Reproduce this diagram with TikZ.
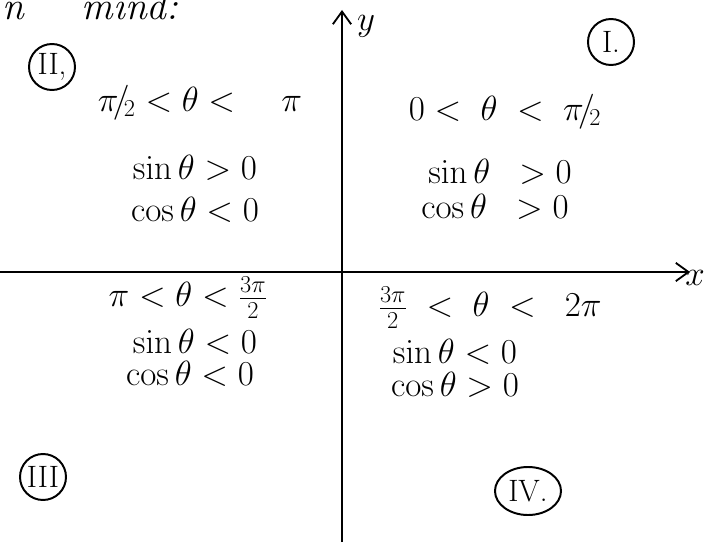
\documentclass[tikz,border=0pt]{standalone}
\usepackage{tikz}
\usetikzlibrary{arrows.meta, positioning, shapes.geometric}

\begin{document}
\begin{tikzpicture}[x=0.025cm, y=0.025cm, font=\fontsize{26}{30}\selectfont,
    axis/.style={line width=1.3pt, -{Straight Barb[length=9pt, width=13pt]}},
    quadnum/.style={draw, circle, line width=1.4pt, inner sep=1pt, minimum size=1.15cm,
      font=\fontsize{22}{26}\selectfont},
    quadtext/.style={anchor=center}]
  \useasboundingbox (0,0) rectangle (704,542);

  % heading, cut at the top
  \node[anchor=base west, inner sep=0pt, font=\fontsize{28}{32}\selectfont\itshape] (head) at (2,522) {n\hspace{1.45cm}mind:};

  % axes
  \coordinate (xstart) at (0,270);
  \coordinate (xend) at (690,270);
  \coordinate (ystart) at (342,0);
  \coordinate (yend) at (342,532);
  \draw[axis] (xstart) -- (xend);
  \draw[axis] (ystart) -- (yend);
  \node[inner sep=0pt] (xlab) at (695,264) {$x$};
  \node (ylab) at (366,516) {$y$};

  % quadrant numbers
  \node[quadnum] (qone) at (611,500) {I.};
  \node[quadnum] (qtwo) at (52,475) {II,};
  \node[quadnum] (qthree) at (43,65) {III};
  \node[quadnum, ellipse, minimum width=1.65cm, minimum height=1.2cm] (qfour) at (528,51) {IV.};

  % quadrant I
  \node[quadtext] (onerange) at (505,430) {$0<\;\theta\;<\;\pi\!/\!_{2}$};
  \node[quadtext] (onesin) at (500,370) {$\sin\theta\;\;>0$};
  \node[quadtext] (onecos) at (495,335) {$\cos\theta\;\;>0$};

  % quadrant II
  \node[quadtext] (tworange) at (200,439) {$\pi\!/\!_{2}<\theta<\quad\pi$};
  \node[quadtext] (twosin) at (195,374) {$\sin\theta>0$};
  \node[quadtext] (twocos) at (195,332) {$\cos\theta<0$};

  % quadrant III
  \node[quadtext] (threerange) at (188,244) {$\pi<\theta<\frac{3\pi}{2}$};
  \node[quadtext] (threesin) at (195,200) {$\sin\theta<0$};
  \node[quadtext] (threecos) at (190,168) {$\cos\theta<0$};

  % quadrant IV
  \node[quadtext] (fourrange) at (490,234) {$\frac{3\pi}{2}\;<\;\theta\;<\;\;2\pi$};
  \node[quadtext] (foursin) at (455,190) {$\sin\theta<0$};
  \node[quadtext] (fourcos) at (455,157) {$\cos\theta>0$};
\end{tikzpicture}
\end{document}
